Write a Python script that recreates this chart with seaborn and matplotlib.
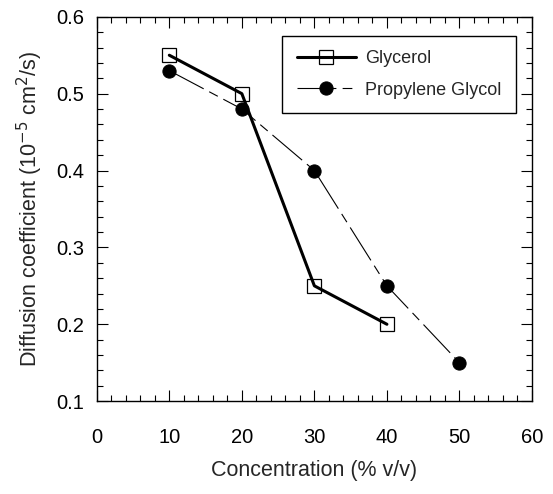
import matplotlib
matplotlib.use("Agg")
import matplotlib.pyplot as plt
import seaborn as sns
import pandas as pd
from matplotlib.ticker import MultipleLocator

sns.set_style("ticks")
plt.rcParams['font.family'] = ['Liberation Sans', 'DejaVu Sans']
plt.rcParams['lines.scale_dashes'] = False

# data
gly_conc = [10, 20, 30, 40]
gly_diff = [0.55, 0.50, 0.25, 0.20]
pg_conc = [10, 20, 30, 40, 50]
pg_diff = [0.53, 0.48, 0.40, 0.25, 0.15]

gly = pd.DataFrame({'conc': gly_conc, 'diff': gly_diff})
pg = pd.DataFrame({'conc': pg_conc, 'diff': pg_diff})

fig = plt.figure(figsize=(5.53, 4.94), dpi=100)
ax = fig.add_axes([0.175, 0.188, 0.787, 0.778])

sns.lineplot(data=gly, x='conc', y='diff', ax=ax, color='black', linewidth=2.2,
             marker='s', markersize=9.5, markerfacecolor='none',
             markeredgecolor='black', markeredgewidth=0.9, label='Glycerol')
sns.lineplot(data=pg, x='conc', y='diff', ax=ax, color='black', linewidth=0.8,
             marker='o', markersize=9.5, markerfacecolor='black',
             markeredgecolor='black', label='Propylene Glycol')
ax.lines[1].set_dashes([28, 4.5, 7, 4.5])

ax.set_xlim(0, 60)
ax.set_ylim(0.1, 0.6)
ax.xaxis.set_major_locator(MultipleLocator(10))
ax.xaxis.set_minor_locator(MultipleLocator(2))
ax.yaxis.set_major_locator(MultipleLocator(0.1))
ax.yaxis.set_minor_locator(MultipleLocator(0.02))
ax.tick_params(which='both', direction='in', top=True, right=True,
               labelsize=14.5, colors='black')
ax.tick_params(which='major', length=8, width=0.8)
ax.tick_params(which='minor', length=4, width=0.8)
ax.tick_params(axis='x', which='major', pad=19)
ax.tick_params(axis='y', which='major', pad=9)
for s in ax.spines.values():
    s.set_color('black')
    s.set_linewidth(1.0)

ax.set_xlabel('Concentration (% v/v)', fontsize=15.5, labelpad=10)
ax.set_ylabel('Diffusion coefficient (10$^{-5}$ cm$^{2}$/s)', fontsize=15.5, labelpad=8)

leg = ax.legend(loc='upper right', bbox_to_anchor=(0.984, 0.974), fontsize=13,
                frameon=True, fancybox=False, handlelength=3.3,
                borderpad=0.8, labelspacing=0.8, handletextpad=0.5)
leg.get_frame().set_edgecolor('black')
leg.get_frame().set_linewidth(1.0)
leg.get_frame().set_alpha(1)

fig.savefig('out.png', dpi=100)
